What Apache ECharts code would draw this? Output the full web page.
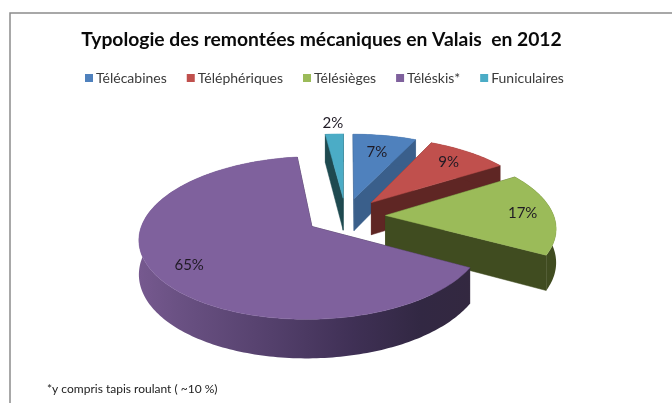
<!DOCTYPE html>
<html><head><meta charset="utf-8">
<style>html,body{margin:0;padding:0;background:#fff}#c{width:672px;height:403px}</style>
<script src="https://cdn.jsdelivr.net/npm/echarts@6/dist/echarts.min.js"></script>
</head><body><div id="c"></div>
<script>
const categories = ['Télécabines','Téléphériques','Télésièges','Téléskis*','Funiculaires'];
const shares = [7, 9, 17, 65, 2];
const topColors = ['#4f81bd','#c0504d','#9bbb59','#7f619d','#4bacc6'];
const wallColors = ['#3a5f8b','#5f2624','#404c20','#33283f','#1f4a50'];
const drawOrder = [4,0,1,2,3];
const labelRadius = [0.72,0.78,0.82,0.8,1.2];
const sliceScale = [1,1,0.99,0.985,1];
const titleText = 'Typologie des remontées mécaniques en Valais  en 2012';
const footnoteText = '*y compris tapis roulant ( ~10 %)';

// projected pie geometry
const ax = 345.6, ay = 216, rx = 170, ry = 78, persp = 0.14, explode = 0.235, depth = 33;
const total = shares.reduce((a,b)=>a+b,0);
const starts = []; let acc = 0;
shares.forEach(v=>{starts.push(acc/total*Math.PI*2); acc+=v;});

function project(u,v,down){
  const w = 1 + persp*v;
  return [ax + rx*u/w, ay - ry*v/w + (down?depth/w:0)];
}
function slicePoint(i,r,theta,down){
  const mid = starts[i] + shares[i]/total*Math.PI;
  const s = r*sliceScale[i];
  const u = explode*Math.sin(mid) + s*Math.sin(theta);
  const v = explode*Math.cos(mid) + s*Math.cos(theta);
  return project(u,v,down);
}
function arc(i,down){
  const a0 = starts[i], a1 = a0 + shares[i]/total*Math.PI*2, pts=[];
  const n = Math.max(6,Math.ceil((a1-a0)/0.02));
  for(let k=0;k<=n;k++) pts.push(slicePoint(i,1,a0+(a1-a0)*k/n,down));
  return pts;
}
function renderSlice(i){
  return function(){
    const a0 = starts[i], a1 = a0 + shares[i]/total*Math.PI*2;
    const top = arc(i,false), bottom = arc(i,true);
    const wall = wallColors[i];
    const radial = (t)=>[slicePoint(i,0,t,false),slicePoint(i,1,t,false),slicePoint(i,1,t,true),slicePoint(i,0,t,true)];
    const outerFill = i===3 ? new echarts.graphic.LinearGradient(0,0,1,0,[
      {offset:0,color:'#76598f'},{offset:0.12,color:'#6a5183'},{offset:0.4,color:'#54406c'},
      {offset:0.65,color:'#3f3055'},{offset:0.85,color:'#322843'},{offset:1,color:'#332840'}]) : wall;
    const mid = a0+(a1-a0)/2;
    const lp = slicePoint(i,labelRadius[i],mid,false);
    return {type:'group',children:[
      {type:'polygon',shape:{points:radial(a0)},style:{fill:wall,stroke:wall,lineWidth:0.5}},
      {type:'polygon',shape:{points:radial(a1)},style:{fill:wall,stroke:wall,lineWidth:0.5}},
      {type:'polygon',shape:{points:top.concat(bottom.slice().reverse())},style:{fill:outerFill}},
      {type:'polygon',shape:{points:[slicePoint(i,0,a0,false)].concat(top)},style:{fill:topColors[i],stroke:topColors[i],lineWidth:0.5}},
      {type:'text',x:lp[0],y:lp[1],style:{text:shares[i]+'%',align:'center',verticalAlign:'middle',
        fontFamily:'Lato',fontSize:15,fill:'#1f1a24'}}
    ]};
  };
}

const chart = echarts.init(document.getElementById('c'),null,{renderer:'canvas'});
chart.setOption({
  animation:false,
  backgroundColor:'#fff',
  title:[
    {text:titleText,left:316.5,top:25,textAlign:'center',textStyle:{fontFamily:'Lato',fontWeight:'bold',fontSize:19.3,color:'#0a0a0a'}},
    {text:footnoteText,left:42,top:378,textStyle:{fontFamily:'Lato',fontWeight:'normal',fontSize:12,color:'#222'}}
  ],
  legend:{
    data:categories,left:80,top:66,itemWidth:8,itemHeight:8,itemGap:20,icon:'rect',
    textStyle:{fontFamily:'Lato',fontSize:14,color:'#3a3a3a',padding:[0,0,0,-2]},
    selectedMode:false
  },
  graphic:[{type:'polyline',silent:true,shape:{points:[[10,403],[10,13],[672,13]]},style:{stroke:'#8c8c8c',lineWidth:1.5,fill:null}}],
  series:drawOrder.map(i=>({
    type:'custom',name:categories[i],coordinateSystem:'none',silent:true,
    itemStyle:{color:topColors[i]},
    data:[shares[i]],renderItem:renderSlice(i)
  }))
});
</script></body></html>
